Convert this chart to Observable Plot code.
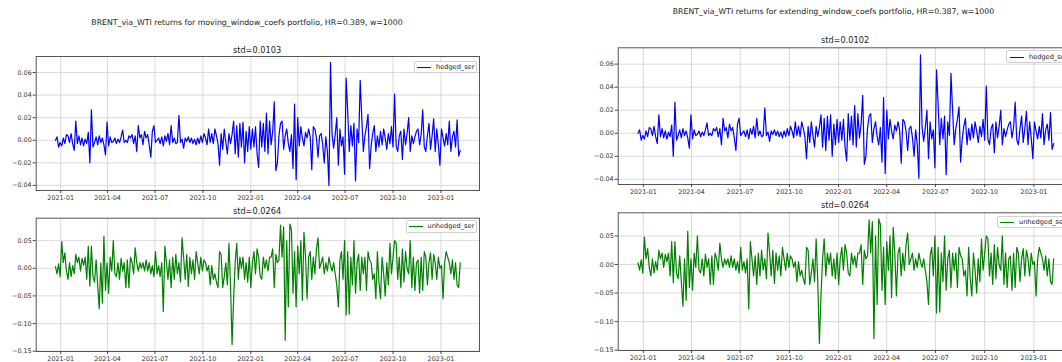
<!DOCTYPE html>
<html><head><meta charset="utf-8">
<script src="https://cdn.jsdelivr.net/npm/d3@7"></script>
<script src="https://cdn.jsdelivr.net/npm/@observablehq/plot@0.6"></script>
<style>
html,body{margin:0;padding:0;background:#fff;}
#root{position:relative;width:1062px;height:362px;overflow:hidden;font-family:"DejaVu Sans",sans-serif;color:#222;}
.abs{position:absolute;}
.ctr{white-space:nowrap;transform:translate(-50%,-50%);line-height:1;}
.title{font-size:7.8px;}
.std{font-size:8.2px;}
.legend{position:absolute;border:1px solid #d0d0d0;border-radius:2px;background:rgba(255,255,255,0.85);font-size:6.6px;box-sizing:border-box;}
.legend .ln{position:absolute;top:50%;height:0;}
.legend .tx{position:absolute;top:50%;transform:translateY(-50%);white-space:nowrap;line-height:1;}
svg{position:absolute;overflow:visible;}
</style>
</head><body><div id="root"></div>
<script>
// ---- data ----
const seriesStart = "2020-12-22"; // first observation
const stepDays = 3;               // sampling step of the readings
const axisStart = "2020-11-15", axisEnd = "2023-03-16";

const hedgedMoving = [
 0.000,0.003,-0.006,-0.002,-0.005,0.002,-0.003,0.005,0.004,-0.002,
 0.006,-0.003,-0.009,0.017,-0.003,0.004,-0.004,0.002,-0.005,0.001,
 -0.003,0.007,-0.020,0.027,-0.006,-0.002,0.003,-0.004,0.004,-0.002,
 0.002,-0.004,-0.013,0.016,-0.005,0.003,-0.002,-0.001,0.002,-0.003,
 0.001,-0.002,0.003,0.009,-0.002,0.000,-0.002,0.004,0.002,0.005,
 -0.003,0.004,-0.010,0.013,0.002,0.005,-0.004,0.008,0.002,0.005,
 -0.004,-0.015,0.008,0.013,-0.002,0.000,0.002,-0.003,0.003,-0.005,
 0.004,-0.001,0.006,-0.004,0.013,-0.002,0.002,-0.003,-0.002,0.022,
 -0.002,0.001,-0.007,0.002,-0.001,0.003,-0.002,0.002,-0.003,0.001,
 -0.004,0.002,-0.003,0.004,-0.002,0.006,0.002,-0.004,0.010,-0.002,
 0.006,-0.003,0.010,0.004,-0.003,-0.022,0.006,-0.008,0.010,-0.002,
 -0.012,0.006,-0.003,0.005,0.017,-0.012,0.013,-0.015,0.015,-0.006,
 0.016,-0.020,0.008,-0.010,0.012,-0.008,0.010,-0.006,0.012,-0.012,
 -0.024,0.017,-0.006,0.015,-0.010,0.024,-0.012,0.017,-0.004,0.008,
 0.034,-0.027,-0.020,0.004,0.015,0.017,-0.008,0.004,0.010,-0.003,
 -0.010,0.005,-0.025,0.032,-0.035,0.020,-0.005,0.012,0.002,-0.005,
 0.007,0.002,0.010,0.003,-0.026,0.012,0.010,0.002,-0.015,0.004,
 0.006,-0.004,-0.020,0.003,-0.010,-0.040,0.069,0.005,-0.007,0.005,
 0.020,-0.022,0.010,-0.005,0.003,-0.030,0.055,0.025,-0.010,0.013,
 -0.005,0.015,-0.036,0.010,-0.002,0.053,0.020,-0.010,0.004,0.012,
 0.023,-0.025,-0.005,0.006,0.013,-0.010,0.004,-0.006,0.008,-0.004,
 0.010,0.002,-0.008,0.006,-0.003,0.012,-0.006,0.041,-0.005,-0.010,
 0.004,0.008,-0.017,0.010,-0.004,0.006,0.020,-0.010,0.004,-0.003,
 0.003,0.008,0.010,-0.004,0.005,0.027,-0.006,-0.010,0.004,0.015,
 -0.008,0.004,0.019,-0.010,0.010,-0.004,-0.022,0.010,0.002,-0.005,
 0.006,-0.004,0.017,-0.010,0.003,0.008,-0.006,0.018,-0.014,-0.009
];

const hedgedExtending = [
 0.000,0.003,-0.006,-0.002,-0.005,0.002,-0.003,0.005,0.004,-0.002,
 0.006,-0.003,-0.009,0.016,-0.003,0.004,-0.004,0.002,-0.005,0.001,
 -0.003,0.007,-0.020,0.027,-0.006,-0.002,0.003,-0.004,0.004,-0.002,
 0.002,-0.004,-0.013,0.016,-0.005,0.003,-0.002,-0.001,0.002,-0.003,
 0.001,-0.002,0.003,0.009,-0.002,0.000,-0.002,0.004,0.002,0.005,
 -0.003,0.004,-0.010,0.013,0.002,0.005,-0.004,0.008,0.002,0.005,
 -0.004,-0.015,0.008,0.013,-0.002,0.000,0.002,-0.003,0.003,-0.005,
 0.004,-0.001,0.006,-0.004,0.013,-0.002,0.002,-0.003,-0.002,0.022,
 -0.002,0.001,-0.007,0.002,-0.001,0.003,-0.002,0.002,-0.003,0.001,
 -0.004,0.002,-0.003,0.004,-0.002,0.006,0.002,-0.004,0.010,-0.002,
 0.006,-0.003,0.010,0.004,-0.003,-0.022,0.006,-0.008,0.010,-0.002,
 -0.012,0.006,-0.003,0.005,0.016,-0.012,0.013,-0.015,0.015,-0.006,
 0.016,-0.020,0.008,-0.010,0.012,-0.008,0.010,-0.006,0.012,-0.012,
 -0.024,0.017,-0.006,0.015,-0.010,0.024,-0.012,0.017,-0.004,0.008,
 0.033,-0.027,-0.020,0.004,0.015,0.017,-0.008,0.004,0.010,-0.003,
 -0.010,0.005,-0.025,0.031,-0.035,0.020,-0.005,0.012,0.002,-0.005,
 0.007,0.002,0.010,0.003,-0.026,0.012,0.010,0.002,-0.015,0.004,
 0.006,-0.004,-0.020,0.003,-0.010,-0.039,0.068,0.005,-0.007,0.005,
 0.020,-0.022,0.010,-0.005,0.003,-0.030,0.055,0.025,-0.010,0.013,
 -0.005,0.015,-0.036,0.010,-0.002,0.052,0.020,-0.010,0.004,0.012,
 0.023,-0.025,-0.005,0.006,0.013,-0.010,0.004,-0.006,0.008,-0.004,
 0.010,0.002,-0.008,0.006,-0.003,0.012,-0.006,0.041,-0.005,-0.010,
 0.004,0.008,-0.017,0.010,-0.004,0.006,0.020,-0.010,0.004,-0.003,
 0.003,0.008,0.010,-0.004,0.005,0.027,-0.006,-0.010,0.004,0.015,
 -0.008,0.004,0.019,-0.010,0.010,-0.004,-0.022,0.010,0.002,-0.005,
 0.006,-0.004,0.017,-0.010,0.003,0.008,-0.006,0.018,-0.014,-0.009
];

const unhedged = [
 0.003,-0.010,0.008,-0.015,0.048,0.010,0.028,-0.005,-0.020,0.010,
 -0.015,0.005,-0.010,0.025,0.010,0.020,-0.005,0.018,0.005,0.020,
 -0.020,0.040,-0.032,0.040,-0.015,-0.025,0.015,-0.030,-0.073,0.010,
 -0.063,0.058,-0.040,0.010,-0.045,0.020,-0.005,0.050,-0.010,-0.015,
 0.010,-0.020,0.018,-0.005,0.010,-0.035,0.015,-0.035,0.020,0.010,
 -0.010,0.037,0.010,-0.005,0.010,0.000,0.010,-0.005,0.015,-0.005,
 0.010,-0.010,0.005,-0.015,0.030,-0.010,0.005,-0.015,0.010,-0.078,
 0.040,0.010,-0.020,0.015,-0.035,0.020,-0.020,0.025,-0.010,0.010,
 -0.025,0.055,0.020,-0.020,0.025,-0.033,0.020,-0.010,0.015,-0.020,
 0.030,0.010,-0.010,0.020,-0.005,0.015,0.010,-0.005,0.005,-0.030,
 0.005,-0.020,-0.010,-0.025,-0.035,0.030,0.025,-0.035,-0.015,0.010,
 -0.030,0.045,-0.030,-0.138,-0.055,0.010,0.045,-0.020,0.020,0.000,
 0.020,-0.020,0.010,-0.025,0.020,-0.035,0.010,0.030,-0.010,0.035,
 0.020,-0.015,-0.020,0.020,0.000,0.015,-0.005,0.020,0.020,0.035,
 -0.035,0.025,0.010,0.015,0.078,0.020,0.075,-0.130,0.050,-0.070,
 0.080,0.070,-0.045,0.030,-0.070,0.040,-0.010,0.050,-0.058,0.065,
 0.020,-0.055,0.020,0.030,-0.020,0.020,-0.010,0.035,0.055,0.000,
 0.010,0.020,-0.010,0.010,-0.005,0.020,0.005,-0.005,0.010,-0.010,
 -0.030,-0.070,0.015,0.030,-0.020,0.050,-0.085,0.030,-0.083,0.020,
 -0.030,0.050,-0.045,0.010,0.025,-0.040,0.020,-0.010,0.020,-0.040,
 0.030,0.015,0.010,-0.020,-0.010,-0.055,0.030,-0.025,-0.055,0.020,
 -0.010,-0.050,0.010,-0.030,0.045,-0.010,0.020,0.050,0.045,-0.020,
 0.020,-0.035,0.035,-0.025,0.030,0.000,-0.010,0.050,-0.035,0.020,
 -0.040,0.010,0.015,-0.045,0.020,-0.040,0.030,0.020,-0.030,0.010,
 0.028,-0.020,0.025,0.010,-0.020,0.020,0.000,0.005,-0.055,0.010,
 0.030,0.020,0.010,-0.010,0.015,-0.020,0.010,-0.030,-0.035,0.010
];

const xTickLabels = ["2021-01","2021-04","2021-07","2021-10","2022-01","2022-04","2022-07","2022-10","2023-01"];
const yTicksHedged = [-0.04,-0.02,0.00,0.02,0.04,0.06];
const yTicksUnhedged = [-0.15,-0.10,-0.05,0.00,0.05];
const yDomainHedged = [-0.0445, 0.0742];
const yDomainUnhedged = [-0.1505, 0.0905];

const titles = [
  "BRENT_via_WTI returns for moving_window_coefs portfolio, HR=0.389, w=1000",
  "BRENT_via_WTI returns for extending_window_coefs portfolio, HR=0.387, w=1000"
];
const stdMoving = ["std=0.0103","std=0.0264"];
const stdExtending = ["std=0.0102","std=0.0264"];
const legendNames = ["hedged_ser","unhedged_ser"];
const colors = {hedged:"#0000ff", unhedged:"#008000"};

// ---- build ----
const parse = d3.utcParse("%Y-%m-%d");
const start = parse(seriesStart);
const toRows = vals => vals.map((v,i)=>({date:d3.utcDay.offset(start, i*stepDays), value:v}));
const xTicks = xTickLabels.map(d3.utcParse("%Y-%m"));
const xDomain = [parse(axisStart), parse(axisEnd)];
const root = document.getElementById("root");

function panel(vals, color, yDomain, yTicks, box, frame) {
  const chart = Plot.plot({
    width: box.w, height: box.h,
    marginLeft: frame.l - box.x, marginTop: frame.t - box.y,
    marginRight: box.x + box.w - frame.r, marginBottom: box.y + box.h - frame.b,
    style: {fontFamily:"DejaVu Sans", fontSize:"6.4px", color:"#333", background:"transparent", overflow:"visible"},
    x: {type:"utc", domain:xDomain, label:null},
    y: {domain:yDomain, label:null},
    marks: [
      Plot.gridX(xTicks, {stroke:"#d0d0d0", strokeOpacity:1, strokeWidth:0.8}),
      Plot.gridY(yTicks, {stroke:"#d0d0d0", strokeOpacity:1, strokeWidth:0.8}),
      Plot.lineY(toRows(vals), {x:"date", y:"value", stroke:color, strokeWidth:1.2}),
      Plot.frame({stroke:"#555", strokeWidth:1}),
      Plot.axisX(xTicks, {tickFormat:d3.utcFormat("%Y-%m"), tickSize:3, tickPadding:1.5, label:null, stroke:"#444"}),
      Plot.axisY(yTicks, {tickFormat:d3.format(".2f"), tickSize:3, tickPadding:1.5, label:null, stroke:"#444"})
    ]
  });
  chart.style.left = box.x + "px";
  chart.style.top = box.y + "px";
  root.appendChild(chart);
}

function text(str, cls, cx, cy) {
  const d = document.createElement("div");
  d.className = "abs ctr " + cls;
  d.textContent = str;
  d.style.left = cx + "px"; d.style.top = cy + "px";
  root.appendChild(d);
}

function legend(name, color, x, y, w, h, lx, lw, tx) {
  const d = document.createElement("div");
  d.className = "legend";
  Object.assign(d.style, {left:x+"px", top:y+"px", width:w+"px", height:h+"px"});
  const ln = document.createElement("div");
  ln.className = "ln";
  Object.assign(ln.style, {left:lx+"px", width:lw+"px", borderTop:"1.2px solid "+color});
  const t = document.createElement("div");
  t.className = "tx"; t.textContent = name; t.style.left = tx + "px";
  d.appendChild(ln); d.appendChild(t);
  root.appendChild(d);
}

// left figure
text(titles[0], "title", 247, 22.5);
text(stdMoving[0], "std", 257, 50);
panel(hedgedMoving, colors.hedged, yDomainHedged, yTicksHedged, {x:0,y:38,w:490,h:170}, {l:35.7,t:56,r:479,b:190});
legend(legendNames[0], colors.hedged, 414, 60.5, 63, 12.3, 2, 14, 21);
text(stdMoving[1], "std", 257, 210.5);
panel(unhedged, colors.unhedged, yDomainUnhedged, yTicksUnhedged, {x:0,y:200,w:490,h:162}, {l:35.7,t:217.7,r:479,b:351});
legend(legendNames[1], colors.unhedged, 406, 220, 71, 12.7, 2, 14, 20.5);

// right figure
text(titles[1], "title", 833.5, 11.7);
text(stdExtending[0], "std", 845, 40);
panel(hedgedExtending, colors.hedged, yDomainHedged, yTicksHedged, {x:560,y:30,w:525,h:170}, {l:617.7,t:47.3,r:1073,b:184});
legend(legendNames[0], colors.hedged, 1006, 50, 64, 13.3, 3, 14, 22);
text(stdExtending[1], "std", 845, 205);
panel(unhedged, colors.unhedged, yDomainUnhedged, yTicksUnhedged, {x:560,y:195,w:525,h:167}, {l:617.7,t:212.3,r:1073,b:350});
legend(legendNames[1], colors.unhedged, 996.7, 216, 74, 12.3, 2.3, 14, 21.3);
</script>
</body></html>
